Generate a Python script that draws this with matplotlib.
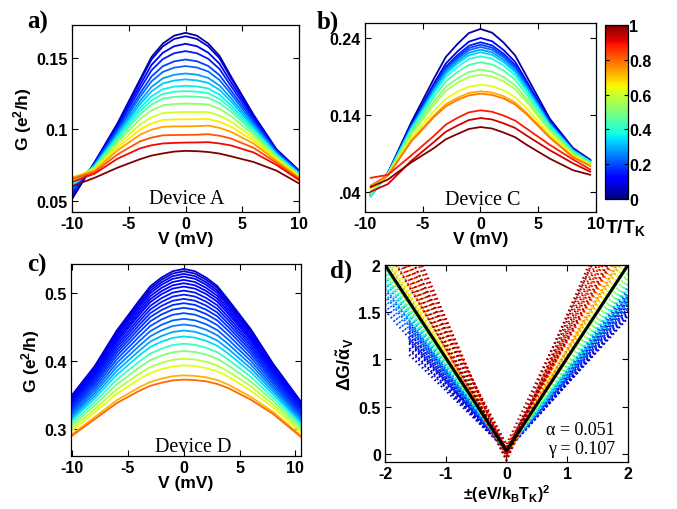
import matplotlib
matplotlib.use("Agg")
import matplotlib.pyplot as plt
from matplotlib.colors import Normalize
from matplotlib.cm import ScalarMappable

plt.rcParams['font.family'] = 'Liberation Sans'
plt.rcParams['font.weight'] = 'bold'
plt.rcParams['axes.labelweight'] = 'bold'
plt.rcParams['axes.unicode_minus'] = False
plt.rcParams['mathtext.fontset'] = 'custom'
plt.rcParams['mathtext.rm'] = 'Liberation Sans:bold'
plt.rcParams['mathtext.bf'] = 'Liberation Sans:bold'
plt.rcParams['mathtext.it'] = 'Liberation Sans:bold:italic'
plt.rcParams['mathtext.default'] = 'bf'

# ---- panel a: Device A ----
v_a = [-10, -8, -6, -4, -3, -2, -1, 0, 1, 2, 3, 4, 6, 8, 10]
t_a = [0.03, 0.07, 0.11, 0.15, 0.19, 0.23, 0.28, 0.32, 0.36, 0.40, 0.45, 0.52, 0.60, 0.66, 0.74, 0.82, 0.90, 1.0]
g_a = [
    [.051, .077, .104, .135, .1505, .160, .1655, .1675, .1655, .160, .1513, .137, .110, .086, .071],
    [.052, .0768, .1035, .1338, .1488, .158, .1632, .1651, .1632, .158, .1496, .1358, .1094, .0858, .0709],
    [.054, .0765, .1022, .131, .145, .1535, .1581, .1598, .1581, .1536, .1458, .133, .1081, .0853, .0706],
    [.055, .0761, .101, .1283, .1412, .1491, .1532, .1547, .1532, .1493, .1421, .1303, .1068, .0848, .0703],
    [.057, .0757, .0996, .1252, .1369, .1441, .1475, .1488, .1476, .1443, .1378, .1272, .1053, .0842, .0699],
    [.058, .0753, .0984, .1227, .1335, .1401, .1431, .1442, .1432, .1404, .1344, .1247, .1041, .0837, .0696],
    [.059, .0749, .0971, .1198, .1296, .1356, .1381, .139, .1382, .1359, .1305, .1218, .1026, .0831, .0693],
    [.060, .0746, .0959, .1175, .1265, .132, .1341, .1349, .1342, .1324, .1275, .1195, .1014, .0827, .069],
    [.061, .0742, .0947, .1148, .123, .128, .1298, .1304, .1299, .1285, .1241, .1168, .1001, .0821, .0687],
    [.062, .0738, .0936, .1126, .1201, .1247, .1262, .1267, .1263, .1252, .1212, .1146, .0989, .0817, .0684],
    [.063, .0735, .0925, .1104, .1172, .1214, .1226, .123, .1227, .1219, .1183, .1124, .0978, .0812, .0681],
    [.064, .073, .0909, .1072, .1131, .1167, .1176, .1179, .1177, .1173, .1142, .1092, .096, .0805, .0677],
    [.065, .0723, .0889, .1033, .1083, .1113, .1118, .112, .112, .112, .1095, .1053, .0939, .0796, .0672],
    [.066, .0717, .087, .0998, .104, .1065, .1068, .1069, .107, .1072, .1051, .1018, .0919, .0788, .0667],
    [.066, .071, .0851, .0962, .0996, .1017, .1019, .102, .1021, .1025, .1009, .0982, .0899, .0778, .0661],
    [.065, .070, .0823, .0915, .0941, .0957, .0959, .096, .0961, .0965, .0954, .0935, .0869, .0765, .0653],
    [.063, .0689, .0793, .0866, .0887, .090, .0904, .0906, .0907, .0909, .090, .0886, .0837, .075, .0644],
    [.060, .066, .073, .079, .0815, .083, .0843, .0848, .0846, .084, .0829, .081, .077, .071, .062],
]

# ---- panel b: Device C ----
v_b = [-9.5, -8, -6, -4, -3, -2, -1, 0, 1, 2, 3, 4, 6, 8, 9.5]
t_b = [0.03, 0.10, 0.15, 0.19, 0.23, 0.28, 0.33, 0.38, 0.44, 0.50, 0.56, 0.63, 0.73, 0.78, 0.88, 0.93, 1.0]
g_b = [
    [.036, .065, .130, .188, .2153, .232, .2464, .2517, .2469, .234, .2173, .190, .135, .097, .0816],
    [.036, .0646, .1271, .1816, .2068, .2223, .2352, .240, .2358, .2243, .2089, .1838, .1321, .0956, .0807],
    [.037, .0644, .1256, .1785, .2027, .2176, .2299, .2344, .2304, .2196, .2048, .1807, .1306, .095, .0802],
    [.037, .0643, .1249, .1768, .2005, .215, .2269, .2313, .2274, .217, .2026, .1791, .1299, .0946, .080],
    [.035, .0641, .1241, .1752, .1984, .2126, .2241, .2283, .2246, .2146, .2005, .1775, .1291, .0942, .0797],
    [.034, .064, .1231, .1732, .1957, .2095, .2207, .2248, .2212, .2115, .1978, .1755, .1281, .0938, .0794],
    [.034, .0639, .1222, .1713, .1932, .2067, .2174, .2214, .218, .2087, .1954, .1736, .1272, .0933, .0791],
    [.035, .0637, .1207, .1683, .1894, .2023, .2125, .2162, .213, .2043, .1915, .1707, .1257, .0927, .0787],
    [.036, .0633, .1186, .1637, .1835, .1956, .2049, .2084, .2055, .1976, .1857, .1662, .1236, .0916, .0779],
    [.038, .0629, .1157, .1579, .1761, .1872, .1957, .1988, .1962, .1892, .1783, .1605, .1207, .0902, .077],
    [.040, .0626, .1137, .1539, .1711, .1816, .1893, .1922, .1899, .1836, .1733, .1566, .1187, .0892, .0763],
    [.044, .0619, .1094, .1455, .1607, .170, .1767, .1792, .1773, .172, .163, .1484, .1144, .0871, .0749],
    [.047, .0614, .1063, .1397, .1537, .1622, .1683, .1706, .1689, .1642, .156, .1427, .1113, .0855, .0738],
    [.048, .0612, .1052, .1375, .151, .1593, .1653, .1675, .1658, .1613, .1534, .1406, .1102, .0849, .0734],
    [.058, .062, .087, .113, .1273, .136, .1432, .1459, .144, .139, .1325, .122, .101, .082, .069],
    [.040, .050, .080, .105, .118, .126, .1332, .1358, .134, .129, .1229, .113, .094, .077, .066],
    [.046, .056, .078, .097, .1082, .115, .1216, .1241, .1222, .117, .1109, .101, .083, .068, .062],
]

# ---- panel c: Device D ----
v_c = [-10, -8, -6, -4, -3, -2, -1, 0, 1, 2, 3, 4, 6, 8, 10.5]
t_c = [0.07, 0.08, 0.09, 0.10, 0.11, 0.12, 0.13, 0.14, 0.15, 0.16, 0.17, 0.18, 0.20, 0.22, 0.25,
       0.29, 0.34, 0.42, 0.50, 0.57, 0.63, 0.72, 0.80]
g_c = [
    [.350, .392, .445, .489, .5101, .523, .5323, .5357, .5323, .523, .5105, .490, .447, .396, .340],
    [.3487, .3904, .4428, .4862, .507, .5197, .5289, .5323, .5289, .5198, .5075, .4873, .4448, .3944, .3389],
    [.3473, .3885, .4402, .483, .5035, .516, .5251, .5284, .5251, .5161, .504, .4842, .4423, .3927, .3377],
    [.3459, .3866, .4376, .4798, .500, .5123, .5211, .5244, .5212, .5124, .5005, .481, .4398, .3909, .3364],
    [.3441, .3843, .4344, .4758, .4956, .5077, .5164, .5196, .5164, .5079, .4962, .4771, .4367, .3887, .3349],
    [.3423, .3819, .4312, .4718, .4911, .503, .5115, .5147, .5116, .5033, .4919, .4732, .4336, .3865, .3333],
    [.3405, .3796, .428, .4679, .4868, .4984, .5067, .5097, .5067, .4987, .4875, .4693, .4305, .3842, .3317],
    [.3382, .3767, .424, .4629, .4813, .4926, .5008, .5038, .5009, .493, .4822, .4645, .4266, .3815, .3298],
    [.3361, .3739, .4202, .4581, .476, .487, .495, .4979, .4951, .4875, .477, .4598, .4229, .3788, .3279],
    [.3338, .3709, .4161, .4531, .4705, .4812, .4888, .4916, .4889, .4817, .4715, .4549, .4189, .376, .326],
    [.3315, .3679, .4119, .4479, .4648, .4751, .4826, .4853, .4827, .4757, .4659, .4498, .4149, .3731, .3239],
    [.3289, .3646, .4074, .4423, .4586, .4686, .4758, .4784, .4759, .4693, .4598, .4444, .4105, .370, .3217],
    [.3261, .3609, .4023, .4359, .4516, .4612, .4681, .4706, .4683, .462, .4529, .4381, .4055, .3665, .3193],
    [.323, .3569, .3969, .4292, .4441, .4533, .4598, .4622, .460, .4542, .4456, .4315, .4002, .3627, .3166],
    [.3199, .3528, .3913, .4222, .4365, .4452, .4515, .4538, .4517, .4462, .438, .4247, .3948, .3589, .3139],
    [.3166, .3486, .3855, .4151, .4286, .4368, .4428, .445, .4431, .4379, .4302, .4177, .3892, .3549, .3111],
    [.3134, .3444, .3797, .4079, .4207, .4285, .4341, .4362, .4345, .4297, .4225, .4107, .3836, .3509, .3083],
    [.3094, .3393, .3727, .3991, .4109, .4182, .4235, .4255, .4239, .4196, .413, .4021, .3767, .346, .3048],
    [.3055, .3341, .3656, .3903, .4013, .408, .4129, .4147, .4133, .4095, .4034, .3935, .3698, .3411, .3014],
    [.3013, .3287, .3582, .3811, .3912, .3973, .4018, .4034, .4022, .3989, .3935, .3846, .3627, .336, .2978],
    [.2977, .3241, .3518, .3732, .3824, .388, .3921, .3936, .3926, .3897, .3848, .3768, .3564, .3315, .2947],
    [.2923, .317, .3422, .3612, .3691, .374, .3776, .3789, .3781, .376, .3719, .3651, .3471, .3249, .290],
    [.290, .314, .338, .356, .3634, .368, .3714, .3726, .3719, .370, .3662, .360, .343, .322, .288],
]

# ---- panel d: scaled traces (x_left, y_left) -> (0, y0) -> (2, y_right) ----
d_t = [0.03, 0.04, 0.05, 0.06, 0.07, 0.08, 0.09, 0.10, 0.11, 0.12, 0.13, 0.14, 0.15, 0.17,
       0.18, 0.20, 0.21, 0.24, 0.26, 0.27, 0.30, 0.33, 0.35, 0.37, 0.40, 0.43, 0.45, 0.47,
       0.50, 0.53, 0.55, 0.57, 0.61, 0.64, 0.66, 0.68, 0.72, 0.74, 0.76, 0.79, 0.81, 0.83,
       0.86, 0.88, 0.89, 0.91, 0.92, 0.95, 0.97, 0.99, 1.0, 1.0]
d_xl = [-1.6, -1.6, -1.6, -1.6, -1.6, -1.6, -1.6, -1.6, -1.6, -1.6, -1.6, -1.6, -1.6, -2,
        -2, -2, -2, -2, -2, -2, -2, -2, -2, -2, -2, -2, -2, -2,
        -2, -2, -2, -2, -2, -2, -2, -2, -2, -2, -2, -2, -2, -2,
        -2, -2, -2, -2, -2, -2, -2, -2, -2, -2]
d_yl = [1.12, 1.05, 1.22, 1.18, 1.30, 1.28, 1.17, 1.10, 1.36, 1.38, 1.25, 1.20, 1.33, 1.52,
        1.58, 1.68, 1.74, 1.64, 1.76, 1.82, 1.70, 1.88, 1.84, 1.78, 1.94, 1.84, 1.90, 1.98,
        1.90, 2.02, 1.98, 2.06, 1.96, 2.14, 2.10, 2.20, 2.08, 2.40, 2.30, 2.22, 2.50, 2.40,
        2.60, 2.85, 2.30, 2.45, 2.75, 2.50, 2.90, 2.35, 2.20, 2.66]
d_y0 = [0.04, 0.04, 0.05, 0.05, 0.03, 0.03, 0.04, 0.04, 0.05, 0.04, 0.03, 0.05, 0.04, 0.04,
        0.04, 0.03, 0.05, 0.03, 0.04, 0.04, 0.05, 0.03, 0.03, 0.04, 0.03, 0.05, 0.04, 0.02,
        0.04, 0.03, 0.02, 0.02, 0.05, 0.0, 0.03, 0.03, -0.02, 0.0, 0.06, 0.0, 0.05, -0.04,
        0.08, -0.02, -0.06, 0.06, 0.02, 0.10, -0.03, 0.0, 0.05, -0.07]
d_yr = [1.50, 1.44, 1.58, 1.62, 1.46, 1.52, 1.66, 1.68, 1.54, 1.48, 1.72, 1.58, 1.62, 1.64,
        1.52, 1.56, 1.68, 1.76, 1.66, 1.60, 1.70, 1.78, 1.70, 1.64, 1.82, 1.74, 1.80, 1.86,
        1.92, 1.98, 1.90, 2.04, 2.12, 2.08, 2.00, 2.18, 2.26, 2.14, 2.34, 2.20, 2.56, 2.46,
        2.30, 2.75, 2.62, 2.35, 2.52, 2.80, 2.70, 2.95, 2.40, 2.90]
fit_x = [-2, 0, 2]
fit_y = [2, 0.035, 2]

cmap = plt.cm.jet

fig = plt.figure(figsize=(6.77, 5.10), dpi=100)
ax_a = fig.add_axes([0.1064, 0.5824, 0.3353, 0.3667])
ax_b = fig.add_axes([0.5391, 0.5824, 0.3412, 0.3706])
ax_cb = fig.add_axes([0.8937, 0.6078, 0.034, 0.3412])
ax_c = fig.add_axes([0.1049, 0.1039, 0.3397, 0.3765])
ax_d = fig.add_axes([0.5687, 0.0922, 0.3589, 0.3863])

for t, g in zip(t_a, g_a):
    ax_a.plot(v_a, g, color=cmap(t), lw=1.3)
for t, g in zip(t_b, g_b):
    ax_b.plot(v_b, g, color=cmap(t), lw=1.3)
for t, g in zip(t_c, g_c):
    ax_c.plot(v_c, g, color=cmap(t), lw=1.3)
for t, xl, yl, y0, yr in sorted(zip(d_t, d_xl, d_yl, d_y0, d_yr)):
    ax_d.plot([xl, 0, 2], [yl, y0, yr], color=cmap(t), lw=1.6, ls=(0, (0.7, 1.3)))
ax_d.plot(fit_x, fit_y, color='black', lw=2.2)

ax_a.set_xlim(-10, 10)
ax_a.set_ylim(0.042, 0.173)
ax_a.set_xticks([-10, -5, 0, 5, 10])
ax_a.set_yticks([0.05, 0.1, 0.15])
ax_a.set_yticklabels(['0.05', '0.1', '0.15'])

ax_b.set_xlim(-10, 10)
ax_b.set_ylim(0.0136, 0.2595)
ax_b.set_xticks([-10, -5, 0, 5, 10])
ax_b.set_yticks([0.04, 0.14, 0.24])
ax_b.set_yticklabels(['.04', '0.14', '0.24'])

ax_c.set_xlim(-10.1, 10.5)
ax_c.set_ylim(0.26, 0.543)
ax_c.set_xticks([-10, -5, 0, 5, 10])
ax_c.set_yticks([0.3, 0.4, 0.5])
ax_c.set_yticklabels(['0.3', '0.4', '0.5'])

ax_d.set_xlim(-2, 2)
ax_d.set_ylim(-0.085, 2)
ax_d.set_xticks([-2, -1, 0, 1, 2])
ax_d.set_yticks([0, 0.5, 1, 1.5, 2])
ax_d.set_yticklabels(['0', '0.5', '1', '1.5', '2'])

for ax in (ax_a, ax_b, ax_c, ax_d):
    ax.tick_params(direction='in', top=True, right=True, length=4, width=0.8, labelsize=11.5, pad=3)
    for s in ax.spines.values():
        s.set_linewidth(0.9)
    ax.set_xlabel('V (mV)', fontsize=12.5, labelpad=0)

ax_d.set_xlabel(r'$\pm$(eV/k$_B$T$_K$)$^2$', fontsize=11.5, labelpad=1)
ax_a.set_ylabel('G (e$^2$/h)', fontsize=12.5, labelpad=2)
ax_c.set_ylabel('G (e$^2$/h)', fontsize=12.5, labelpad=2)
ax_d.set_ylabel(r'$\Delta$G/$\tilde{\alpha}_\mathrm{V}$', fontsize=13, labelpad=2)

serif = dict(family='Liberation Serif', weight='normal', fontsize=14.5)
ax_a.text(0.507, 0.048, 'Device A', transform=ax_a.transAxes, ha='center', va='baseline', **serif)
ax_b.text(0.508, 0.042, 'Device C', transform=ax_b.transAxes, ha='center', va='baseline', **serif)
ax_c.text(0.53, 0.028, 'Device D', transform=ax_c.transAxes, ha='center', va='baseline', **serif)
ax_d.text(0.947, 0.142, 'α = 0.051', transform=ax_d.transAxes, ha='right', va='baseline',
          family='Liberation Serif', weight='normal', fontsize=13)
ax_d.text(0.947, 0.046, 'γ = 0.107', transform=ax_d.transAxes, ha='right', va='baseline',
          family='Liberation Serif', weight='normal', fontsize=13)

# colorbar
cb = fig.colorbar(ScalarMappable(norm=Normalize(0, 1), cmap=cmap), cax=ax_cb)
cb.set_ticks([0, 0.2, 0.4, 0.6, 0.8, 1])
cb.set_ticklabels(['0', '0.2', '0.4', '0.6', '0.8', '1'])
ax_cb.tick_params(direction='in', length=3, width=0.8, labelsize=11.5, pad=1, left=True)
cb.outline.set_linewidth(0.9)
fig.text(0.893, 0.543, 'T/T$_K$', fontsize=14, ha='left', va='baseline')

# panel letters
letter = dict(family='Liberation Serif', weight='bold', fontsize=18)
fig.text(0.040, 0.943, 'a)', **letter)
fig.text(0.468, 0.943, 'b)', **letter)
fig.text(0.040, 0.468, 'c)', **letter)
fig.text(0.487, 0.455, 'd)', **letter)

fig.savefig('out.png', dpi=100)
